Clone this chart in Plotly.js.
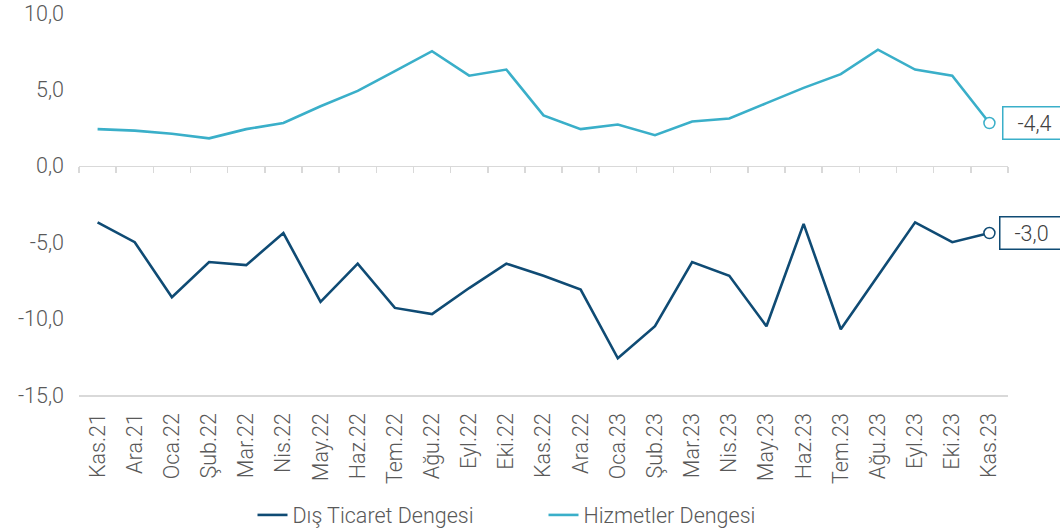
<!DOCTYPE html>
<html>
<head>
<meta charset="utf-8">
<script src="https://cdn.plot.ly/plotly-3.0.1.min.js"></script>
<style>html,body{margin:0;padding:0;background:#fff;}#chart{width:1060px;height:529px;}</style>
</head>
<body>
<div id="chart"></div>
<script>
const months = ['Kas.21','Ara.21','Oca.22','Şub.22','Mar.22','Nis.22','May.22','Haz.22','Tem.22','Ağu.22','Eyl.22','Eki.22','Kas.22','Ara.22','Oca.23','Şub.23','Mar.23','Nis.23','May.23','Haz.23','Tem.23','Ağu.23','Eyl.23','Eki.23','Kas.23'];
const disTicaret = [-3.7,-5.0,-8.6,-6.3,-6.5,-4.4,-8.9,-6.4,-9.3,-9.7,-8.0,-6.4,-7.2,-8.1,-12.6,-10.5,-6.3,-7.2,-10.5,-3.8,-10.7,-7.2,-3.7,-5.0,-4.4];
const hizmetler = [2.4,2.3,2.1,1.8,2.4,2.8,3.9,4.9,6.2,7.5,5.9,6.3,3.3,2.4,2.7,2.0,2.9,3.1,4.1,5.1,6.0,7.6,6.3,5.9,2.8];
const seriesNames = ['Dış Ticaret Dengesi','Hizmetler Dengesi'];
const endLabels = ['-3,0','-4,4'];
const yTicks = [-15,-10,-5,0,5,10];
const yTickLabels = ['-15,0','-10,0','-5,0','0,0','5,0','10,0'];

const darkC = '#0f4b74', lightC = '#3aafc9', gridC = '#d9d9d9', textC = '#595959';
const last = months.length - 1;

const traces = [
  {x: months, y: disTicaret, name: seriesNames[0], mode: 'lines', type: 'scatter',
   line: {color: darkC, width: 2.6}, xaxis: 'x', yaxis: 'y', hoverinfo: 'skip'},
  {x: months, y: hizmetler, name: seriesNames[1], mode: 'lines', type: 'scatter',
   line: {color: lightC, width: 2.6}, xaxis: 'x2', yaxis: 'y', hoverinfo: 'skip'},
  {x: [months[last]], y: [disTicaret[last]], mode: 'markers', showlegend: false, cliponaxis: false,
   marker: {symbol: 'circle', size: 11, color: '#ffffff', line: {color: darkC, width: 1.5}}, xaxis: 'x2', yaxis: 'y', hoverinfo: 'skip'},
  {x: [months[last]], y: [hizmetler[last]], mode: 'markers', showlegend: false, cliponaxis: false,
   marker: {symbol: 'circle', size: 11, color: '#ffffff', line: {color: lightC, width: 1.5}}, xaxis: 'x2', yaxis: 'y', hoverinfo: 'skip'}
];

const fontFam = 'Roboto, "Liberation Sans", Arial, sans-serif';
const fs = 21.5;
const layout = {
  width: 1060, height: 529,
  margin: {l: 79, r: 52, t: 13, b: 134, autoexpand: false},
  paper_bgcolor: '#ffffff', plot_bgcolor: '#ffffff',
  separators: ',.',
  font: {family: fontFam, size: fs, color: textC, weight: 300},
  showlegend: true,
  legend: {orientation: 'h', x: 0.5, xanchor: 'center', y: -0.314, yanchor: 'middle',
           entrywidth: 246, entrywidthmode: 'pixels',
           font: {size: fs, color: textC, weight: 300}, traceorder: 'normal'},
  xaxis: {type: 'category', categoryorder: 'array', categoryarray: months, range: [-0.5, last + 0.5],
          showgrid: false, zeroline: false, showline: true, linecolor: gridC, linewidth: 1.5,
          ticks: '', tickangle: -90, ticklabelstandoff: 8, tickmode: 'array', tickvals: months, ticktext: months,
          tickfont: {size: fs, color: textC, weight: 300}, automargin: false, fixedrange: true},
  xaxis2: {type: 'category', categoryorder: 'array', categoryarray: months, range: [-0.5, last + 0.5],
           overlaying: 'x', anchor: 'free', position: 0.6, side: 'bottom',
           showgrid: false, zeroline: false, showline: true, linecolor: gridC, linewidth: 1.5,
           ticks: 'outside', tickson: 'boundaries', ticklen: 6, tickwidth: 1.5, tickcolor: gridC,
           showticklabels: false, automargin: false, fixedrange: true},
  yaxis: {range: [-15, 10.001], tickmode: 'array', tickvals: yTicks, ticktext: yTickLabels, showgrid: false, zeroline: false,
          showline: false, ticks: '', ticklabelstandoff: 14, ticklabeloverflow: 'allow',
          tickfont: {size: fs, color: textC, weight: 300}, automargin: false, fixedrange: true},
  annotations: [
    {x: months[last], y: disTicaret[last], xref: 'x2', yref: 'y', text: endLabels[0], showarrow: false,
     xanchor: 'left', yanchor: 'middle', xshift: 10, bgcolor: '#ffffff', bordercolor: darkC, borderwidth: 1.5,
     borderpad: 3, width: 56, align: 'center', font: {size: fs, color: '#404040', weight: 300}},
    {x: months[last], y: hizmetler[last], xref: 'x2', yref: 'y', text: endLabels[1], showarrow: false,
     xanchor: 'left', yanchor: 'middle', xshift: 13, bgcolor: '#ffffff', bordercolor: lightC, borderwidth: 1.5,
     borderpad: 3, width: 56, align: 'center', font: {size: fs, color: '#404040', weight: 300}}
  ]
};

Plotly.newPlot('chart', traces, layout, {displayModeBar: false, staticPlot: true});
</script>
</body>
</html>
